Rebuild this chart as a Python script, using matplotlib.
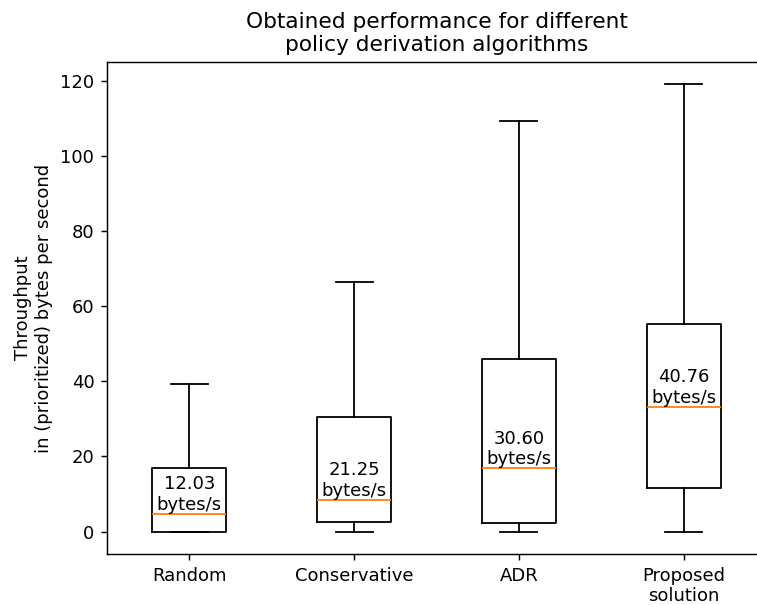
import matplotlib
matplotlib.use("Agg")
from matplotlib import pyplot as plt

labels = ["Random", "Conservative", "ADR", "Proposed\nsolution"]
q1 = [0.0, 2.5, 2.3, 11.5]
medians = [4.8, 8.5, 16.8, 33.1]
q3 = [16.9, 30.4, 46.0, 55.3]
whislo = [0.0, 0.0, 0.0, 0.0]
whishi = [39.4, 66.5, 109.3, 119.0]
means = [12.03, 21.25, 30.60, 40.76]

stats = []
for i in range(len(labels)):
    stats.append({"label": labels[i], "q1": q1[i], "med": medians[i], "q3": q3[i],
                  "whislo": whislo[i], "whishi": whishi[i], "fliers": []})

# drawn at 130 dpi so the default sizes come out as in the original
fig = plt.figure(figsize=(757 / 130, 605 / 130), dpi=130)
ax = fig.add_axes([107 / 757, 51 / 605, 659 / 757, 492 / 605])
ax.bxp(stats, showfliers=False)

for i, m in enumerate(means):
    ax.text(i + 1, medians[i], "%.2f\nbytes/s" % m, ha="center", va="bottom")

ax.set_title("Obtained performance for different\npolicy derivation algorithms")
ax.set_ylabel("Throughput\nin (prioritized) bytes per second")

fig.savefig("out.png", dpi=130)
